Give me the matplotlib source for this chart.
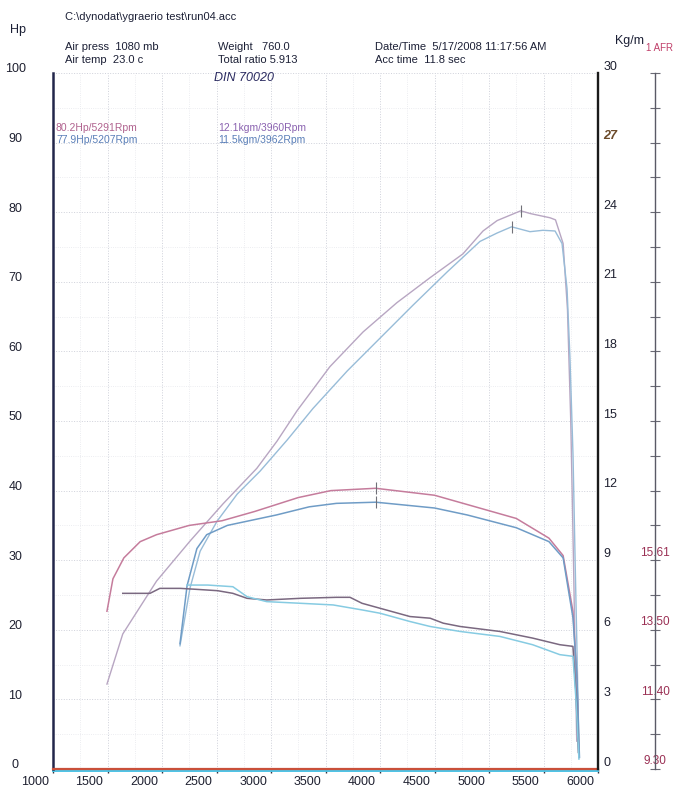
import matplotlib.pyplot as plt
import matplotlib.transforms as mtransforms
from matplotlib.ticker import MultipleLocator

plt.rcParams["font.family"] = ["Liberation Sans Narrow", "Liberation Sans", "DejaVu Sans"]

# run 1 (pink) and run 2 (blue) from the dyno sweep
rpm_power_1 = [1495, 1640, 1950, 2260, 2560, 2870, 3055, 3240, 3540, 3845, 4155, 4460,
               4760, 4945, 5075, 5291, 5380, 5560, 5610, 5680, 5720, 5750, 5775, 5795, 5805]
power_1 = [12.2, 19.4, 27.0, 32.8, 38.1, 43.2, 47.1, 51.5, 57.8, 62.8, 67.0, 70.6,
           74.0, 77.3, 78.8, 80.2, 79.8, 79.2, 78.9, 75.5, 66.0, 50.0, 30.0, 12.0, 4.0]

rpm_power_2 = [2165, 2257, 2350, 2505, 2690, 2900, 3150, 3385, 3700, 4000, 4300, 4615,
               4917, 5073, 5207, 5376, 5495, 5606, 5670, 5716, 5743, 5771, 5790, 5810, 5825]
power_2 = [17.7, 26.0, 31.3, 35.6, 39.5, 42.8, 47.3, 51.8, 57.2, 61.9, 66.6, 71.4,
           75.8, 77.0, 77.9, 77.2, 77.4, 77.3, 75.5, 69.0, 59.0, 45.0, 30.0, 15.0, 3.0]

rpm_torque_1 = [1495, 1550, 1650, 1800, 1950, 2250, 2550, 2850, 3250, 3550, 3960, 4500,
                4800, 5250, 5550, 5680, 5770, 5807, 5825]
torque_1 = [6.8, 8.2, 9.1, 9.8, 10.1, 10.5, 10.7, 11.1, 11.7, 12.0, 12.1, 11.8,
            11.4, 10.8, 9.95, 9.2, 6.8, 3.9, 0.5]

rpm_torque_2 = [2165, 2230, 2320, 2410, 2600, 2800, 3050, 3350, 3600, 3962, 4500,
                4800, 5250, 5550, 5680, 5771, 5807, 5830]
torque_2 = [5.4, 7.9, 9.5, 10.1, 10.5, 10.7, 10.95, 11.3, 11.45, 11.5, 11.25,
            10.95, 10.4, 9.8, 9.1, 6.5, 3.9, 0.5]

rpm_afr_1 = [1640, 1890, 1980, 2170, 2320, 2510, 2650, 2780, 2960, 3270, 3600, 3725,
             3835, 4000, 4275, 4460, 4580, 4735, 5100, 5400, 5650, 5770, 5800, 5820]
afr_1 = [14.6, 14.6, 14.75, 14.75, 14.72, 14.68, 14.6, 14.45, 14.4, 14.45, 14.48, 14.48,
         14.3, 14.15, 13.9, 13.85, 13.7, 13.6, 13.45, 13.25, 13.05, 13.0, 11.5, 9.8]

rpm_afr_2 = [2230, 2420, 2650, 2780, 2960, 3270, 3570, 3835, 4000, 4275, 4460, 4735,
             5100, 5400, 5650, 5770, 5800, 5825]
afr_2 = [14.85, 14.85, 14.8, 14.5, 14.35, 14.3, 14.25, 14.1, 14.0, 13.75, 13.6, 13.45,
         13.3, 13.05, 12.75, 12.7, 11.3, 9.6]

peaks_power = [(5291, 80.2), (5207, 77.9)]
peaks_torque = [(3960, 12.1), (3962, 11.5)]

rpm_ticks = list(range(1000, 6001, 500))
hp_ticks = list(range(0, 101, 10))
kgm_ticks = list(range(0, 31, 3))
afr_labels = ["9.30", "11.40", "13.50", "15.61"]

PINK = "#c57c9c"
PINK_FAINT = "#b8a6c2"
BLUE = "#6f9cc6"
BLUE_FAINT = "#98bcd8"
AFR_DARK = "#7a6880"
AFR_CYAN = "#86cbe2"

W, H = 675, 794
fig = plt.figure(figsize=(W / 100, H / 100), dpi=100)
fig.patch.set_facecolor("white")

left, right, top, bottom = 53, 598, 73, 769
ax = fig.add_axes([left / W, 1 - bottom / H, (right - left) / W, (bottom - top) / H])
ax2 = ax.twinx()
ax3 = ax.twinx()

ax.set_xlim(1000, 6000)
ax.set_ylim(0, 100)
ax2.set_ylim(0, 30)
ax3.set_ylim(9.3, 9.3 + 0.7 * 30)

# faint dotted chart paper grid
ax.xaxis.set_minor_locator(MultipleLocator(250))
ax.yaxis.set_minor_locator(MultipleLocator(5))
ax.grid(True, which="major", linestyle=":", color="#cfd1da", linewidth=0.7)
ax.grid(True, which="minor", linestyle=":", color="#e6e7ec", linewidth=0.6)
ax.tick_params(which="minor", length=0)

# curves
ax.plot(rpm_power_1, power_1, color=PINK_FAINT, lw=1.0)
ax.plot(rpm_power_2, power_2, color=BLUE_FAINT, lw=1.0)
ax2.plot(rpm_torque_1, torque_1, color=PINK, lw=1.1)
ax2.plot(rpm_torque_2, torque_2, color=BLUE, lw=1.1)
ax3.plot(rpm_afr_1, afr_1, color=AFR_DARK, lw=1.1)
ax3.plot(rpm_afr_2, afr_2, color=AFR_CYAN, lw=1.1)

for r, v in peaks_power:
    ax.plot([r], [v], marker="|", color="#707078", ms=8, mew=0.8)
for r, v in peaks_torque:
    ax2.plot([r], [v], marker="|", color="#707078", ms=8, mew=0.8)

# spines
for a in (ax, ax2, ax3):
    a.spines["top"].set_visible(False)
ax.spines["right"].set_visible(False)
ax.spines["left"].set_color("#22264a")
ax.spines["left"].set_linewidth(1.8)
ax.spines["bottom"].set_color("#c9503a")
ax.spines["bottom"].set_linewidth(1.6)
ax.plot([0, 1], [0, 0], transform=mtransforms.offset_copy(ax.transAxes, fig, y=-2, units="dots"),
        color="#4cc3e6", lw=1.4, clip_on=False)

ax2.spines["right"].set_color("#1a1a1a")
ax2.spines["right"].set_linewidth(1.7)
for side in ("left", "bottom"):
    ax2.spines[side].set_visible(False)
    ax3.spines[side].set_visible(False)

ax3.spines["right"].set_position(("axes", (655 - left) / (right - left)))
ax3.spines["right"].set_color("#5a5a66")
ax3.spines["right"].set_linewidth(1.0)

# x axis
ax.set_xticks(rpm_ticks)
ax.set_xticklabels([str(r) for r in rpm_ticks])
ax.tick_params(axis="x", direction="out", length=3, pad=2, width=1, color="#333340",
               labelsize=9, labelcolor="#1e2030")
for t in ax.get_xticklabels():
    t.set_transform(t.get_transform() + mtransforms.ScaledTranslation(-0.18, 0, fig.dpi_scale_trans))

# Hp axis
ax.set_yticks(hp_ticks)
ax.set_yticklabels([str(v) for v in hp_ticks])
ax.tick_params(axis="y", length=0, pad=27, labelsize=9, labelcolor="#1e2030")
for t in ax.get_yticklabels():
    t.set_ha("center")
    t.set_transform(t.get_transform() + mtransforms.ScaledTranslation(0, 0.05, fig.dpi_scale_trans))

# Kg/m axis
ax2.set_yticks(kgm_ticks)
ax2.set_yticklabels([str(v) for v in kgm_ticks])
ax2.tick_params(axis="y", length=0, pad=4, labelsize=9, labelcolor="#1e2030")
for t in ax2.get_yticklabels():
    t.set_transform(t.get_transform() + mtransforms.ScaledTranslation(0, 0.08, fig.dpi_scale_trans))
    if t.get_text() == "27":
        t.set_fontstyle("italic")
        t.set_fontweight("bold")
        t.set_color("#6b4a2a")

# AFR axis
afr_major = [9.3 + 2.1 * k for k in range(11)]
ax3.set_yticks(afr_major)
ax3.set_yticklabels(afr_labels + [""] * (len(afr_major) - len(afr_labels)))
ax3.yaxis.set_minor_locator(plt.FixedLocator([9.3 + 1.05 + 2.1 * k for k in range(10)]))
ax3.tick_params(axis="y", which="both", direction="inout", length=7, width=0.8,
                color="#6a6a74", pad=-3.5, labelsize=8.5, labelcolor="#9a3054")
for t in ax3.get_yticklabels():
    t.set_ha("center")
    t.set_bbox(dict(facecolor="white", edgecolor="none", pad=0.3))
    t.set_transform(t.get_transform() + mtransforms.ScaledTranslation(0, 0.09, fig.dpi_scale_trans))


def label(x, y, s, **kw):
    fig.text(x / W, 1 - y / H, s, va="center", **kw)


ink = "#1c2036"
label(10, 30, "Hp", fontsize=9, color=ink)
label(615, 41, "Kg/m", fontsize=9, color=ink)
label(646, 48, "1 AFR", fontsize=7, color="#c0406a")

label(65, 17, "C:\\dynodat\\ygraerio test\\run04.acc", fontsize=8, color=ink)
label(65, 47, "Air press  1080 mb", fontsize=8, color=ink)
label(65, 60, "Air temp  23.0 c", fontsize=8, color=ink)
label(218, 47, "Weight   760.0", fontsize=8, color=ink)
label(218, 60, "Total ratio 5.913", fontsize=8, color=ink)
label(214, 78, "DIN 70020", fontsize=9, color="#2a2a60", style="italic")
label(375, 47, "Date/Time  5/17/2008 11:17:56 AM", fontsize=8, color=ink)
label(375, 60, "Acc time  11.8 sec", fontsize=8, color=ink)

label(56, 128, "80.2Hp/5291Rpm", fontsize=7.5, color="#b0628e")
label(56, 140, "77.9Hp/5207Rpm", fontsize=7.5, color="#5a7fb8")
label(218, 128, "12.1kgm/3960Rpm", fontsize=7.5, color="#8a62b0")
label(218, 140, "11.5kgm/3962Rpm", fontsize=7.5, color="#5a7fb8")

fig.savefig("out.png", dpi=100)
